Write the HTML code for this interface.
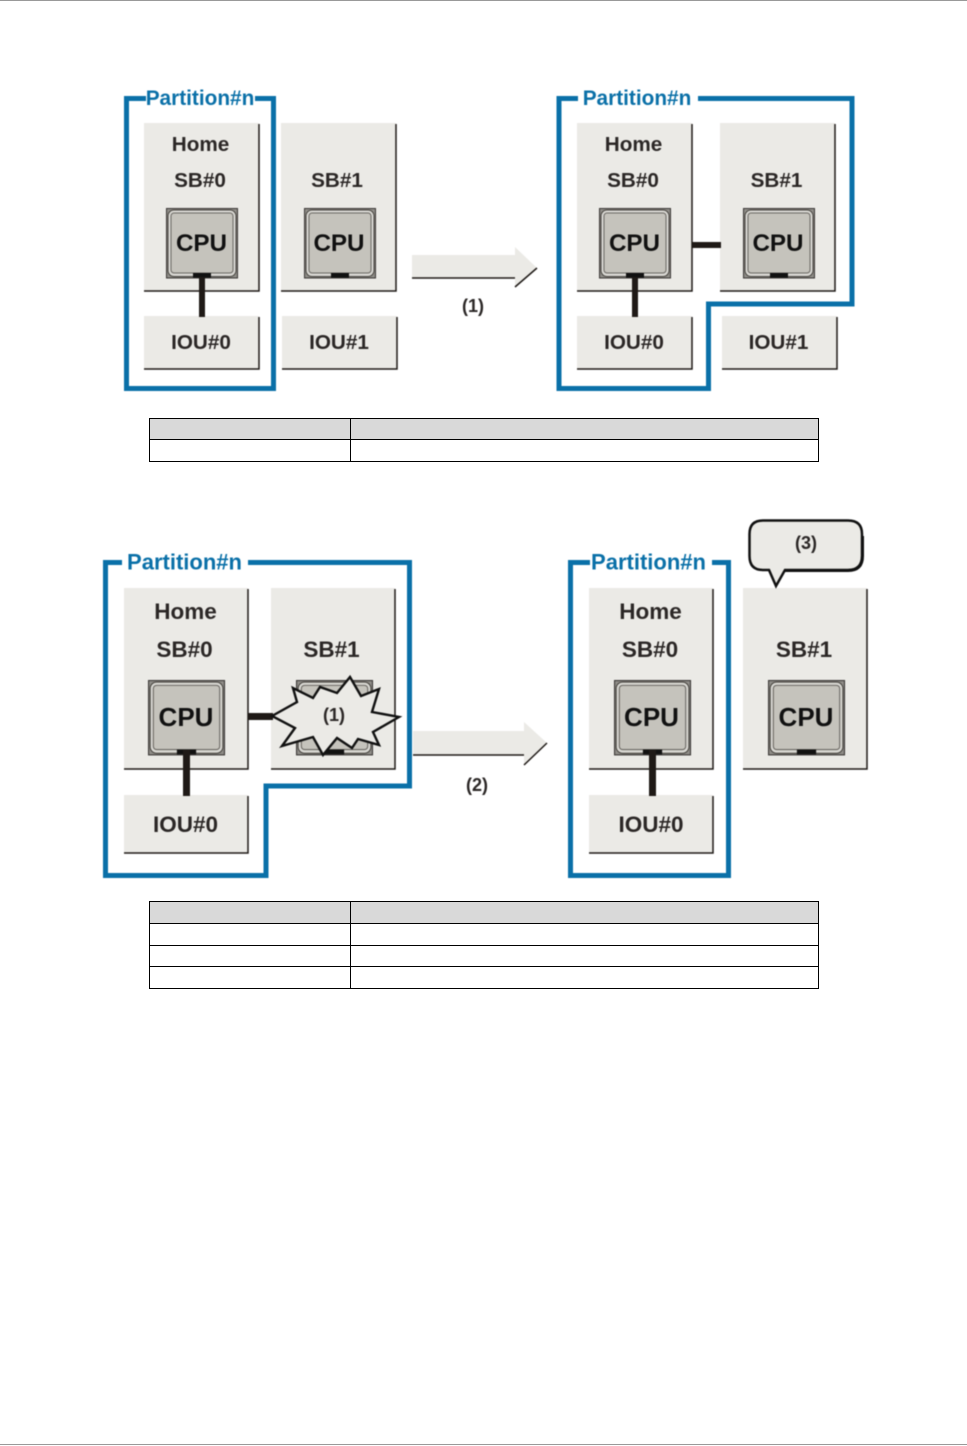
<!DOCTYPE html>
<html>
<head>
<meta charset="utf-8">
<style>
html,body{margin:0;padding:0;background:#fff}
svg{display:block}
text{font-family:"Liberation Sans",sans-serif;font-weight:bold;fill:#2b2726;text-anchor:middle}
.p{font-size:20.800px;fill:#0a70a8}
.q{font-size:22px;fill:#0a70a8}
.l{font-size:20.700px}
.m{font-size:22.500px}
.c{font-size:24.200px;fill:#111}
.d{font-size:26px;fill:#111}
.n{font-size:18px}
.b{fill:#ebeae6}
.e{fill:none;stroke:#1f1a17;stroke-width:1.5}
.w{fill:none;stroke:#0a70a8;stroke-width:5}
.k{fill:#1f1a17}
.t{fill:none;stroke:#000;stroke-width:1}
.h{fill:#d9d9d9}
.s{filter:blur(.4px)}
</style>
</head>
<body>
<svg width="967" height="1446" viewBox="0 0 967 1446" xmlns="http://www.w3.org/2000/svg">
<defs>
<g id="cpu">
<rect x="0.500" y="0.500" width="71" height="69.500" fill="#8f8d88" stroke="#3a3735"/>
<rect x="2" y="2" width="68" height="66.500" rx="6" fill="#d8d7d2" stroke="#47443f"/>
<rect x="5" y="5" width="62" height="60" rx="3" fill="#c5c3bc" stroke="#6a6762"/>
<rect x="27" y="65" width="18" height="4.500" fill="#111"/>
</g>
<g id="sbox"><rect class="b" x="0" y="0" width="115" height="168"/><path class="e" d="M115 1V168H0"/></g>
<g id="ibox"><rect class="b" x="0" y="0" width="115" height="53"/><path class="e" d="M115 1V53H0"/></g>
<g id="sbig"><rect class="b" x="0" y="0" width="124" height="181"/><path class="e" d="M124 1V181H0"/></g>
<g id="ibig"><rect class="b" x="0" y="0" width="124" height="58"/><path class="e" d="M124 1V58H0"/></g>
</defs>

<rect x="0" y="0" width="967" height="1" fill="#999"/>
<rect x="0" y="1444" width="967" height="1" fill="#999"/>

<g class="s">
<!-- Top left -->
<path class="w" d="M146 98.500H126.500V388.500H273.500V98.500H255"/>
<text class="p" x="200" y="105">Partition#n</text>
<use href="#sbox" x="144" y="123"/>
<use href="#sbox" x="281" y="123"/>
<use href="#ibox" x="144" y="316"/>
<use href="#ibox" x="282" y="316"/>
<use href="#cpu" x="166" y="208"/>
<use href="#cpu" x="304" y="208"/>
<rect class="k" x="199" y="277" width="6" height="40"/>
<text class="l" x="200.500" y="151">Home</text>
<text class="l" x="200" y="187">SB#0</text>
<text class="l" x="337" y="187">SB#1</text>
<text class="c" x="201.500" y="251">CPU</text>
<text class="c" x="339" y="251">CPU</text>
<text class="l" x="201" y="349">IOU#0</text>
<text class="l" x="339" y="349">IOU#1</text>

<!-- Arrow 1 -->
<path class="b" d="M412 255H515V247L537 268L515 287V278H412Z"/>
<path class="e" d="M412 278H515M515 287L537 268"/>
<text class="n" x="473" y="312">(1)</text>

<!-- Top right -->
<path class="w" d="M578 98.500H559V388.500H708.500V304H852V98.500H698"/>
<text class="p" x="637" y="105">Partition#n</text>
<use href="#sbox" x="577" y="123"/>
<use href="#sbox" x="720" y="123"/>
<use href="#ibox" x="577" y="316"/>
<use href="#ibox" x="722" y="316"/>
<use href="#cpu" x="599" y="208"/>
<use href="#cpu" x="743" y="208"/>
<rect class="k" x="632" y="277" width="6" height="40"/>
<rect class="k" x="692" y="242" width="29" height="6"/>
<text class="l" x="633.500" y="151">Home</text>
<text class="l" x="633" y="187">SB#0</text>
<text class="l" x="776.500" y="187">SB#1</text>
<text class="c" x="634.500" y="251">CPU</text>
<text class="c" x="778" y="251">CPU</text>
<text class="l" x="634" y="349">IOU#0</text>
<text class="l" x="778.500" y="349">IOU#1</text>

<!-- Bottom left -->
<path class="w" d="M122 562.500H105.500V875.500H266V786H409.500V562.500H248"/>
<text class="q" x="184.500" y="569.500">Partition#n</text>
<use href="#sbig" x="124" y="588"/>
<use href="#sbig" x="271" y="588"/>
<use href="#ibig" x="124" y="795"/>
<g transform="translate(148 680) scale(1.07)"><use href="#cpu"/></g>
<g transform="translate(296 680) scale(1.07)"><use href="#cpu"/></g>
<rect class="k" x="183" y="750" width="7" height="46"/>
<rect class="k" x="248" y="713" width="25" height="7"/>
<polygon points="272,716 297,702 293,688 313,698 320,687 337,693 350,677 361,696 379,689 372,712 399,717 373,732 379,745 358,739 352,748 337,738 323,755 313,737 282,746 295,728" fill="#ebeae6" stroke="#111" stroke-width="2.400" stroke-linejoin="miter"/>
<text class="n" x="334" y="721">(1)</text>
<text class="m" x="185.500" y="619">Home</text>
<text class="m" x="184.500" y="657">SB#0</text>
<text class="m" x="331.500" y="657">SB#1</text>
<text class="d" x="186" y="726">CPU</text>
<text class="m" x="185.500" y="832">IOU#0</text>

<!-- Arrow 2 -->
<path class="b" d="M413 731H524V722L547 743L524 765V755H413Z"/>
<path class="e" d="M413 755H524M524 765L547 743"/>
<text class="n" x="477" y="791">(2)</text>

<!-- Bottom right -->
<path class="w" d="M590 562.500H570.500V875.500H728.500V562.500H712"/>
<text class="q" x="648.500" y="569.500">Partition#n</text>
<use href="#sbig" x="589" y="588"/>
<use href="#sbig" x="743" y="588"/>
<use href="#ibig" x="589" y="795"/>
<g transform="translate(614 680) scale(1.07)"><use href="#cpu"/></g>
<g transform="translate(768 680) scale(1.07)"><use href="#cpu"/></g>
<rect class="k" x="649" y="750" width="7" height="46"/>
<text class="m" x="650.500" y="619">Home</text>
<text class="m" x="650" y="657">SB#0</text>
<text class="m" x="804" y="657">SB#1</text>
<text class="d" x="651.500" y="726">CPU</text>
<text class="d" x="806" y="726">CPU</text>
<text class="m" x="651" y="832">IOU#0</text>

<!-- Callout -->
<path d="M763 520.500H848Q862 520.500 862 534V556Q862 570 848 570H785L776 586L769 570H763Q749.500 570 749.500 556V534Q749.500 520.500 763 520.500Z" fill="#ebeae6" stroke="#111" stroke-width="2.500"/>
<path d="M862.500 536V556Q862.500 570.500 848 570.500H785" fill="none" stroke="#111" stroke-width="3"/>
<text class="n" x="806" y="549">(3)</text>
</g>

<!-- Table 1 -->
<rect class="h" x="149.500" y="418.500" width="669" height="21"/>
<path class="t" d="M149.500 418.500H818.500V461.500H149.500ZM149.500 439.500H818.500M350.500 418.500V461.500"/>

<!-- Table 2 -->
<rect class="h" x="149.500" y="901.500" width="669" height="22"/>
<path class="t" d="M149.500 901.500H818.500V988.500H149.500ZM149.500 923.500H818.500M149.500 945.500H818.500M149.500 966.500H818.500M350.500 901.500V988.500"/>
</svg>
</body>
</html>
